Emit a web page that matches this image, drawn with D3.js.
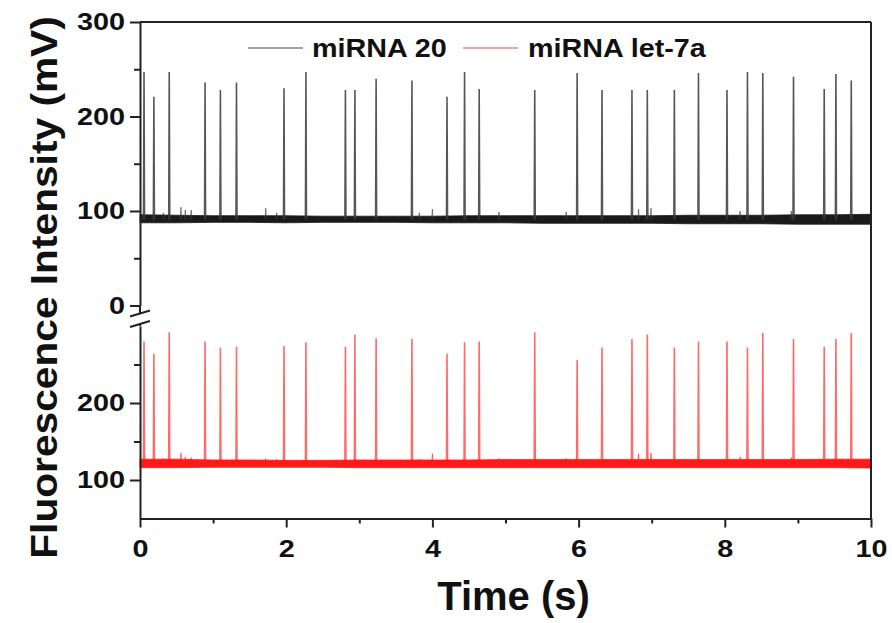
<!DOCTYPE html>
<html>
<head>
<meta charset="utf-8">
<script src="https://cdn.jsdelivr.net/npm/d3@7"></script>
<style>
  body { margin: 0; background: #fff; }
  text { font-family: "Liberation Sans", Arial, sans-serif; font-weight: bold; fill: #111; }
</style>
</head>
<body>
<div class="content"></div>
<script>
// spike times (s), same events on both channels
var peakTimes = [0.055, 0.19, 0.40, 0.89, 1.10, 1.32, 1.97, 2.27, 2.81, 2.94,
    3.23, 3.72, 4.20, 4.44, 4.64, 5.40, 5.98, 6.32, 6.73, 6.94,
    7.31, 7.64, 8.03, 8.31, 8.52, 8.94, 9.36, 9.52, 9.73];
var peaks20 = [247, 221, 247, 236, 228, 236, 230, 247, 228, 228,
    240, 238, 221, 247, 229, 228, 246, 228, 228, 228,
    228, 246, 228, 247, 246, 242, 229, 245, 238];
var peaksLet7a = [280, 264, 292, 280, 272, 273, 274, 279, 273, 289,
    284, 283, 264, 279, 280, 292, 256, 272, 283, 289,
    272, 280, 280, 272, 291, 283, 273, 283, 291];

// small bumps sitting on the baseline
var bumpTimes = [0.32, 0.56, 0.62, 0.70, 1.72, 1.87, 3.82, 4.00, 4.91, 5.83, 6.82, 6.99, 8.21, 8.91];
var bumps20 = [98, 104, 101, 101, 103, 98, 98, 102, 99, 99, 102, 103, 100, 100];
var bumpsLet7a = [128, 135, 130, 129, 128, 127, 127, 134, 128, 128, 134, 135, 130, 129];

// baseline noise envelope, sampled every 0.5 s
var bandTimes = [0, 0.5, 1, 1.5, 2, 2.5, 3, 3.5, 4, 4.5, 5, 5.5, 6, 6.5, 7, 7.5, 8, 8.5, 9, 9.5, 10];
var band20Lo = [87.5, 87.5, 88, 88, 87.5, 88, 88, 88, 87.5, 87.5, 87.5, 87, 87, 87, 87, 86.5, 86.5, 86.5, 86, 86, 86];
var band20Hi = [96, 95.5, 95, 95, 95, 94.5, 94.5, 94.5, 94.5, 95, 95, 95, 95, 95, 95, 95.5, 95.5, 95.5, 96, 96, 96.5];
var bandLetLo = [116, 116, 116.5, 116.5, 116.5, 116.5, 116, 116, 116, 116, 116, 116, 116, 116, 116, 116, 116, 116, 116, 116, 115.5];
var bandLetHi = [127, 127, 126, 126, 125.5, 125.5, 126, 126, 126, 126, 126.5, 126.5, 126.5, 126.5, 126.5, 126.5, 126.5, 126.5, 126.5, 127, 127];
var base20 = 91;
var baseLet7a = 121;

var xTicks = [0, 2, 4, 6, 8, 10];
var xMinor = [1, 3, 5, 7, 9];
var yTopTicks = [0, 100, 200, 300];
var yTopMinor = [50, 150, 250];
var yBotTicks = [100, 200];
var yBotMinor = [150, 250];

var legendNames = ['miRNA 20', 'miRNA let-7a'];
var colors = { black: '#1a1a1a', red: '#ff1a1a' };

var W = 892, H = 623;
var x = d3.scaleLinear().domain([0, 10]).range([140, 871]);
var yTop = d3.scaleLinear().domain([0, 300]).range([305.5, 22]);
var yBot = d3.scaleLinear().domain([50, 300]).range([518.5, 326]);

var svg = d3.select('.content').append('svg')
    .attr('width', W)
    .attr('height', H)
    .style('display', 'block');
svg.append('rect').attr('width', W).attr('height', H).attr('fill', '#fff');

function drawTrace(y, lo, hi, base, peaks, bumps, color, spikeColor, spikeOpacity) {
    var g = svg.append('g');
    var band = bandTimes.map(function(t, i) { return { t: t, lo: lo[i], hi: hi[i] }; });
    var area = d3.area()
        .x(function(d) { return x(d.t); })
        .y0(function(d) { return y(d.lo); })
        .y1(function(d) { return y(d.hi); });
    g.append('path')
        .attr('d', area(band))
        .attr('fill', color)
        .attr('stroke', color)
        .attr('stroke-width', 0.8);

    var spike = d3.line()
        .x(function(d) { return x(d[0]); })
        .y(function(d) { return y(d[1]); });
    g.selectAll('path.spike')
        .data(peakTimes.map(function(t, i) { return [[t - 0.007, base], [t, peaks[i]], [t + 0.007, base]]; }))
        .enter().append('path')
        .attr('class', 'spike')
        .attr('d', spike)
        .attr('fill', 'none')
        .attr('stroke', spikeColor)
        .attr('stroke-opacity', spikeOpacity)
        .attr('stroke-width', 1.6);
    g.selectAll('path.bump')
        .data(bumpTimes.map(function(t, i) { return [[t - 0.01, base], [t, bumps[i]], [t + 0.01, base]]; }))
        .enter().append('path')
        .attr('class', 'bump')
        .attr('d', spike)
        .attr('fill', 'none')
        .attr('stroke', spikeColor)
        .attr('stroke-opacity', 0.6)
        .attr('stroke-width', 1);
}

drawTrace(yTop, band20Lo, band20Hi, base20, peaks20, bumps20, colors.black, '#3a3a3a', 0.85);
drawTrace(yBot, bandLetLo, bandLetHi, baseLet7a, peaksLet7a, bumpsLet7a, colors.red, colors.red, 0.65);

function styleAxis(g) {
    g.select('.domain').attr('stroke', '#222').attr('stroke-width', 2);
    g.selectAll('.tick line').attr('stroke', '#222').attr('stroke-width', 2);
}

// x axis
var xAxis = svg.append('g')
    .attr('transform', 'translate(0,' + yBot.range()[0] + ')')
    .call(d3.axisBottom(x).tickValues(xTicks).tickSize(9).tickSizeOuter(0));
styleAxis(xAxis);
xAxis.selectAll('.tick text')
    .attr('y', 21.5)
    .attr('transform', 'scale(1.2,1)')
    .style('font-size', '24px')
    .attr('fill', '#111');
var xAxisMinor = svg.append('g')
    .attr('transform', 'translate(0,' + yBot.range()[0] + ')')
    .call(d3.axisBottom(x).tickValues(xMinor).tickSize(5).tickFormat(''));
xAxisMinor.select('.domain').remove();
styleAxis(xAxisMinor);

// left axes, split by the break
function leftAxis(y, ticks, minor) {
    var g = svg.append('g')
        .attr('transform', 'translate(' + x(0) + ',0)')
        .call(d3.axisLeft(y).tickValues(ticks).tickSize(10).tickSizeOuter(0));
    styleAxis(g);
    g.selectAll('.tick text')
        .attr('x', -15 / 1.2)
        .attr('transform', 'scale(1.2,1)')
        .style('font-size', '24px')
        .attr('fill', '#111');
    var m = svg.append('g')
        .attr('transform', 'translate(' + x(0) + ',0)')
        .call(d3.axisLeft(y).tickValues(minor).tickSize(6).tickFormat(''));
    m.select('.domain').remove();
    styleAxis(m);
}
leftAxis(yTop, yTopTicks, yTopMinor);
leftAxis(yBot, yBotTicks, yBotMinor);

// axis continues a little past zero, then the break marks
var breakA = yTop(0) + 8, breakB = yBot(300) - 2;
svg.append('line')
    .attr('x1', x(0)).attr('x2', x(0))
    .attr('y1', yTop(0)).attr('y2', breakA)
    .attr('stroke', '#222').attr('stroke-width', 2);
[breakA, breakB].forEach(function(by) {
    svg.append('line')
        .attr('x1', x(0) - 10).attr('y1', by + 3)
        .attr('x2', x(0) + 10).attr('y2', by - 3)
        .attr('stroke', '#222').attr('stroke-width', 2);
});
svg.append('line')
    .attr('x1', x(0)).attr('x2', x(0))
    .attr('y1', breakB).attr('y2', yBot(300))
    .attr('stroke', '#222').attr('stroke-width', 2);

// frame: top and right
svg.append('line')
    .attr('x1', x(0)).attr('x2', x(10))
    .attr('y1', yTop(300)).attr('y2', yTop(300))
    .attr('stroke', '#222').attr('stroke-width', 2);
svg.append('line')
    .attr('x1', x(10)).attr('x2', x(10))
    .attr('y1', yTop(300)).attr('y2', yBot(50))
    .attr('stroke', '#222').attr('stroke-width', 2);

// titles
svg.append('text')
    .attr('transform', 'translate(57,287.5) rotate(-90) scale(1.1,1)')
    .attr('text-anchor', 'middle')
    .style('font-size', '37px')
    .text('Fluorescence Intensity (mV)');
svg.append('text')
    .attr('x', 513.5)
    .attr('y', 610)
    .attr('text-anchor', 'middle')
    .style('font-size', '40px')
    .text('Time (s)');

// legend
var legend = [
    { name: legendNames[0], color: '#444', x1: 248, x2: 303, tx: 312 },
    { name: legendNames[1], color: '#f04040', x1: 463, x2: 518, tx: 528 }
];
legend.forEach(function(d) {
    svg.append('line')
        .attr('x1', d.x1).attr('x2', d.x2)
        .attr('y1', 48).attr('y2', 48)
        .attr('stroke', d.color).attr('stroke-width', 1.2);
    svg.append('text')
        .attr('transform', 'translate(' + d.tx + ',57) scale(1.15,1)')
        .style('font-size', '25px')
        .text(d.name);
});
</script>
</body>
</html>
